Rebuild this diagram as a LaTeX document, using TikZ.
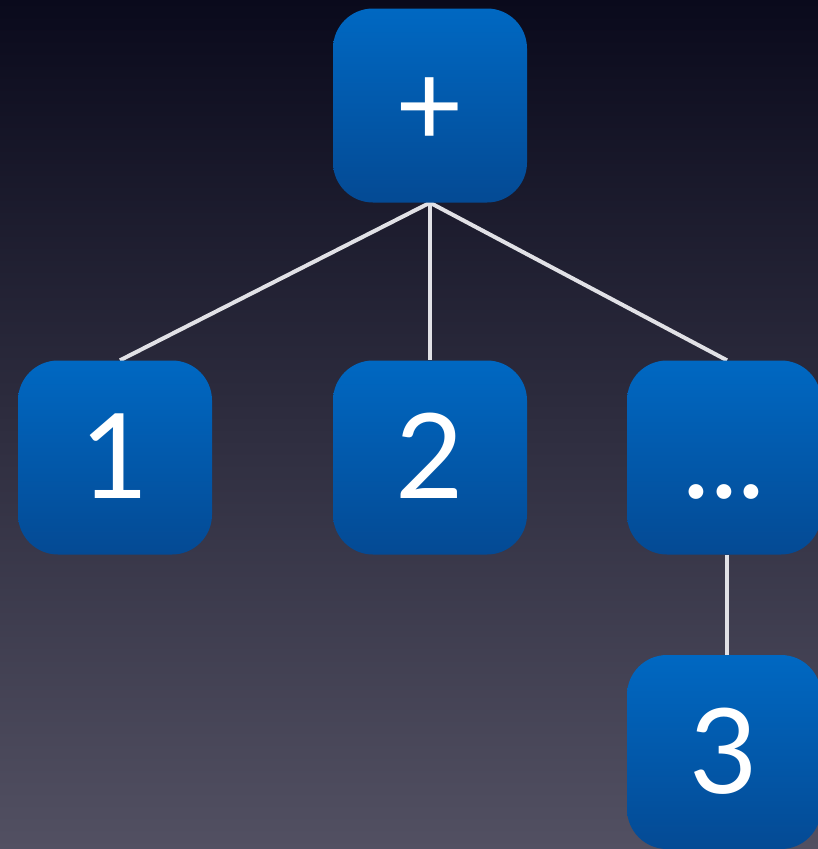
\documentclass[tikz,border=0pt]{standalone}
\usepackage{fontspec}
\setmainfont{Lato}
\pgfdeclarelayer{bg}
\pgfdeclarelayer{edges}
\pgfsetlayers{bg,edges,main}
\definecolor{bgtop}{RGB}{10,10,28}
\definecolor{bgbot}{RGB}{82,80,98}
\definecolor{boxtop}{RGB}{0,104,194}
\definecolor{boxbot}{RGB}{4,74,148}
\definecolor{edgecol}{RGB}{225,225,230}
\tikzset{
  tnode/.style={rounded corners=40pt, minimum width=194pt, minimum height=194pt,
    inner sep=0pt, top color=boxtop, bottom color=boxbot, draw=none,
    text=white, font=\fontsize{118}{118}\selectfont,
    text height=88pt, text depth=6pt},
  tedge/.style={draw=edgecol, line width=4pt}
}
\begin{document}
\begin{tikzpicture}[x=1pt,y=-1pt]
\begin{pgfonlayer}{bg}
\shade[top color=bgtop, bottom color=bgbot] (0,0) rectangle (818,849);
\end{pgfonlayer}
\useasboundingbox (0,0) rectangle (818,849);
\node[tnode] (plus) at (430,105.5) {+};
\node[tnode] (one) at (115,457.5) {1};
\node[tnode] (two) at (430,457.5) {2};
\node[tnode] (dots) at (724,457.5) {...};
\node[tnode] (three) at (724,752) {3};
\begin{pgfonlayer}{edges}
\draw[tedge] (plus.south) -- ([xshift=5pt]one.north);
\draw[tedge] (plus.south) -- (two.north);
\draw[tedge] (plus.south) -- ([xshift=3pt]dots.north);
\draw[tedge] ([xshift=3pt]dots.south) -- ([xshift=3pt]three.north);
\end{pgfonlayer}
\end{tikzpicture}
\end{document}
